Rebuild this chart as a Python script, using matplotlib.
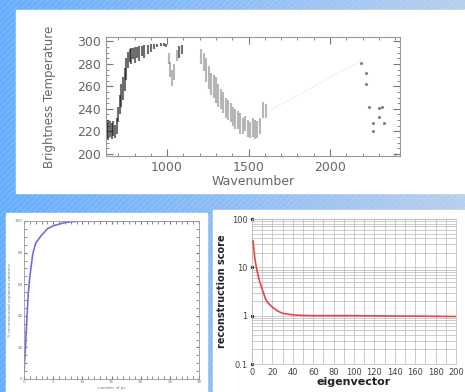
import numpy as np
import matplotlib
matplotlib.use("Agg")
import matplotlib.pyplot as plt
from matplotlib.patches import Rectangle

W, H = 465, 392

# --- top panel: brightness temperature spectrum (low / high of each spike) ---
wn_dark = [630, 640, 650, 660, 670, 680, 690, 700, 710, 720, 730, 740, 750, 760,
           770, 780, 790, 800, 815, 830, 845, 860, 880, 900, 920, 940, 960, 980, 995,
           1075, 1090]
bt_dark_lo = [214, 212, 215, 213, 216, 214, 218, 228, 235, 242, 248, 256, 266, 276,
              282, 280, 284, 281, 285, 283, 287, 285, 289, 291, 293, 295, 296, 296, 295,
              285, 289]
bt_dark_hi = [228, 230, 229, 227, 229, 226, 232, 242, 252, 262, 268, 276, 285, 291,
              293, 294, 294, 295, 295, 296, 296, 297, 297, 298, 298, 298, 299, 299, 298,
              296, 297]

wn_light = [1010, 1020, 1030, 1045, 1060, 1210, 1225, 1240, 1255, 1270, 1285, 1300,
            1315, 1330, 1345, 1360, 1375, 1390, 1405, 1420, 1435, 1450, 1465, 1480,
            1495, 1510, 1525, 1540, 1555, 1570, 1590, 1605]
bt_light_lo = [280, 268, 260, 266, 283, 280, 274, 264, 258, 252, 250, 245, 242, 240,
               236, 232, 230, 228, 225, 222, 222, 218, 218, 220, 215, 214, 215, 213,
               214, 218, 232, 232]
bt_light_hi = [290, 282, 275, 280, 292, 293, 290, 285, 278, 272, 270, 268, 262, 258,
               255, 250, 248, 245, 242, 240, 238, 236, 232, 234, 230, 228, 232, 230,
               229, 232, 246, 244]

wn_link = [1612, 2190]
bt_link = [237, 283]

wn_far = [2190, 2220, 2222, 2240, 2264, 2262, 2300, 2322, 2300, 2330]
bt_far = [281, 272, 262, 242, 227, 220, 241, 242, 233, 227]

# --- bottom left: explained variance vs number of pcs ---
n_pc = [0, 0.25, 0.5, 0.75, 1, 1.5, 2, 3, 4, 5, 6, 7, 8, 10, 15, 20, 25, 30]
expl = [0.04, 0.20, 0.39, 0.55, 0.65, 0.79, 0.86, 0.91, 0.95, 0.97, 0.98, 0.99,
        0.995, 1.0, 1.0, 1.0, 1.0, 1.0]

# --- bottom right: reconstruction score vs eigenvector ---
eig = [1, 3, 5, 7, 10, 13, 15, 20, 25, 30, 40, 50, 60, 80, 100, 120, 150, 180, 200]
score = [35, 14, 8.4, 5.5, 3.5, 2.3, 1.9, 1.5, 1.25, 1.12, 1.04, 1.01, 1.0, 1.0,
         1.0, 0.99, 0.98, 0.97, 0.96]


def frac(x0, y0, x1, y1):
    return [x0 / W, 1 - y1 / H, (x1 - x0) / W, (y1 - y0) / H]


fig = plt.figure(figsize=(W / 100, H / 100), dpi=100)

# slide background: blue gradient with diagonal hatching
bg = fig.add_axes([0, 0, 1, 1])
grad = np.linspace(0, 1, 200)[None, :]
c0 = np.array([0.40, 0.68, 1.00])
c1 = np.array([0.72, 0.81, 0.93])
img = c0[None, None, :] * (1 - grad[..., None]) + c1[None, None, :] * grad[..., None]
bg.imshow(img, extent=[0, W, 0, H], aspect="auto")
for c in range(-H, W, 6):
    bg.plot([c, c + H], [0, H], color="white", lw=0.5, alpha=0.22)
bg.set_xlim(0, W)
bg.set_ylim(0, H)
bg.axis("off")

for x0, y0, x1, y1 in [(16, 10, 465, 193), (6, 213, 207, 392), (213, 210, 465, 392)]:
    bg.add_patch(Rectangle((x0, H - y1), x1 - x0, y1 - y0, color="white", zorder=3))

# top spectrum
gray = "#777777"
ax1 = fig.add_axes(frac(106, 37, 400, 156))
ax1.vlines(wn_dark, bt_dark_lo, bt_dark_hi, color="#111111", lw=1.5, alpha=0.6)
ax1.vlines(wn_light, bt_light_lo, bt_light_hi, color="#333333", lw=1.5, alpha=0.35)
ax1.plot(wn_link, bt_link, color="#c8c8c8", lw=0.5, ls=":")
ax1.plot(wn_far, bt_far, ls="none", marker="s", ms=1.2, color="#555555", alpha=0.6)
ax1.set_xlim(625, 2430)
ax1.set_ylim(198, 304)
ax1.set_xticks([1000, 1500, 2000])
ax1.set_yticks([200, 220, 240, 260, 280, 300])
ax1.set_xticks(np.arange(700, 2430, 100), minor=True)
ax1.set_yticks(np.arange(200, 304, 5), minor=True)
ax1.tick_params(which="both", direction="in", top=True, right=True, colors=gray,
                labelsize=9, labelcolor="#666666")
ax1.tick_params(which="major", length=5)
ax1.tick_params(which="minor", length=2.5)
for s in ax1.spines.values():
    s.set_color("#999999")
    s.set_linewidth(0.8)
ax1.set_xlabel("Wavenumber", fontsize=9, color="#666666", labelpad=1)
ax1.set_ylabel("Brightness Temperature", fontsize=8.5, color="#666666", labelpad=15)

# bottom left
ax2 = fig.add_axes(frac(24, 221, 199, 379))
ax2.plot(n_pc, expl, color="#6f6fd8", lw=1.2)
ax2.set_xlim(0, 30)
ax2.set_ylim(0, 1)
ax2.set_xticks(range(0, 31, 5))
ax2.set_xticks(range(0, 31), minor=True)
ax2.set_yticks(np.linspace(0, 1, 6))
ax2.set_yticks(np.linspace(0, 1, 21), minor=True)
ax2.set_yticklabels(["0", "20", "40", "60", "80", "100"])
ax2.tick_params(which="both", direction="in", top=True, right=True, labelsize=3,
                colors="#777777", length=2, pad=1)
for s in ax2.spines.values():
    s.set_color("#999999")
    s.set_linewidth(0.6)
ax2.set_xlabel("number of pc", fontsize=3, color="#777777", labelpad=1)
ax2.set_ylabel("% reconstructed explained variance", fontsize=3, color="#777777",
               labelpad=2)

# bottom right
ax3 = fig.add_axes(frac(252, 219, 456, 364))
ax3.set_yscale("log")
ax3.plot(eig, score, color="#e04848", lw=1.2, zorder=3)
ax3.set_xlim(0, 200)
ax3.set_ylim(0.1, 100)
ax3.set_xticks(range(0, 201, 20))
ax3.set_xticks(range(0, 201, 10), minor=True)
ax3.set_yticks([0.1, 1, 10, 100])
ax3.set_yticklabels(["0.1", "1", "10", "100"])
ax3.grid(True, which="both", color="#b8b8b8", lw=0.5)
ax3.tick_params(which="both", length=0, labelsize=6, labelcolor="#444444", pad=3)
for s in ax3.spines.values():
    s.set_color("#b8b8b8")
    s.set_linewidth(0.5)
ax3.plot(np.zeros(4), [0.1, 1, 10, 100], ls="none", marker="o", ms=1.5,
         color="#333333", clip_on=False)
ax3.set_xlabel("eigenvector", fontsize=8, fontweight="bold", color="#222222", labelpad=0)
ax3.set_ylabel("reconstruction score", fontsize=7, fontweight="bold", color="#222222",
               labelpad=4)

fig.savefig("out.png", dpi=100)
